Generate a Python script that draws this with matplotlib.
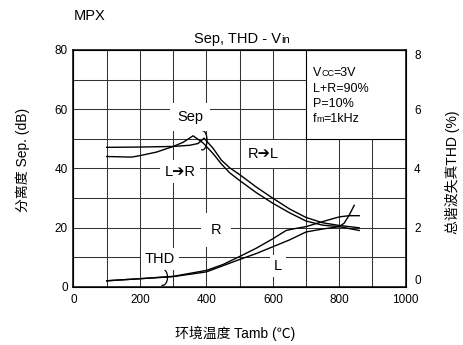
import matplotlib
matplotlib.use('Agg')
import matplotlib.pyplot as plt
from matplotlib.patches import Arc, Rectangle
from matplotlib.ticker import MultipleLocator

plt.rcParams['font.family'] = ['Liberation Sans', 'Noto Sans CJK SC', 'DejaVu Sans']

# ---- data ----
# separation curves (dB, left axis)
sep_rl_x = [100, 200, 300, 350, 375, 393, 420, 445, 470, 500, 550, 600, 650, 700, 750, 800, 860]
sep_rl_y = [47.1, 47.2, 47.4, 47.8, 48.4, 50.2, 46.8, 42.8, 40.2, 37.9, 33.7, 29.9, 26.3, 23.4, 21.6, 20.7, 19.9]
sep_lr_x = [100, 175, 200, 250, 300, 330, 360, 390, 420, 445, 470, 500, 550, 600, 650, 700, 750, 800, 860]
sep_lr_y = [44.0, 43.8, 44.3, 45.5, 47.4, 48.8, 51.0, 48.6, 45.0, 41.5, 38.5, 35.9, 31.8, 28.2, 25.0, 22.2, 20.8, 20.3, 19.0]

# THD curves (%, right axis)
thd_r_x = [100, 200, 300, 400, 450, 500, 550, 600, 640, 660, 700, 750, 800, 830, 860]
thd_r_y = [0.20, 0.27, 0.35, 0.55, 0.75, 1.02, 1.30, 1.62, 1.90, 1.95, 2.03, 2.20, 2.36, 2.40, 2.40]
thd_l_x = [100, 200, 300, 400, 500, 550, 600, 650, 700, 750, 800, 815, 830, 845]
thd_l_y = [0.20, 0.27, 0.34, 0.50, 0.92, 1.12, 1.35, 1.58, 1.85, 1.95, 2.03, 2.15, 2.42, 2.75]

x_ticks = [0, 200, 400, 600, 800, 1000]
sep_ticks = [0, 20, 40, 60, 80]
thd_ticks = [0, 2, 4, 6, 8]

fig = plt.figure(figsize=(4.64, 3.45), dpi=100)
ax = fig.add_axes([73.5 / 464, 1 - 286.7 / 345, (405.7 - 73.5) / 464, (286.7 - 50) / 345])

ax.set_xlim(0, 1000)
ax.set_ylim(0, 80)
ax.set_xticks(x_ticks)
ax.set_yticks(sep_ticks)
ax.xaxis.set_minor_locator(MultipleLocator(100))
ax.yaxis.set_minor_locator(MultipleLocator(10))
ax.grid(which='both', color='#333333', lw=0.75)
ax.set_axisbelow(True)
ax.tick_params(which='both', length=0, labelsize=8.5)
ax.tick_params(axis='x', pad=5)
ax.tick_params(axis='y', pad=4)
for s in ax.spines.values():
    s.set_linewidth(1.1)

ax2 = ax.twinx()
ax2.set_ylim(0, 8)
ax2.set_yticks(thd_ticks)
ax2.tick_params(length=0, labelsize=8.5, pad=6)
labs = ax2.get_yticklabels()
labs[0].set_va('bottom')
labs[-1].set_va('top')

lc = 'black'
ax.plot(sep_rl_x, sep_rl_y, color=lc, lw=1.0, zorder=3)
ax.plot(sep_lr_x, sep_lr_y, color=lc, lw=1.0, zorder=3)
ax2.plot(thd_r_x, thd_r_y, color=lc, lw=1.0, zorder=3)
ax2.plot(thd_l_x, thd_l_y, color=lc, lw=1.0, zorder=3)

# condition box
ax.add_patch(Rectangle((700, 50), 300, 30, fc='white', ec='black', lw=0.8, zorder=1))
box_kw = dict(xycoords='data', textcoords='offset points', va='baseline', ha='left', fontsize=9)
ax.annotate('V', (721, 71.2), xytext=(0, 0), **box_kw)
ax.annotate('CC', (721, 71.2), xytext=(6.0, 0), **{**box_kw, 'fontsize': 6.5})
ax.annotate('=3V', (721, 71.2), xytext=(14.4, 0), **box_kw)
ax.annotate('L+R=90%', (721, 65.9), xytext=(0, 0), **box_kw)
ax.annotate('P=10%', (721, 60.7), xytext=(0, 0), **box_kw)
ax.annotate('f', (721, 55.6), xytext=(0, 0), **box_kw)
ax.annotate('m', (721, 55.6), xytext=(2.3, 0), **{**box_kw, 'fontsize': 6.5})
ax.annotate('=1kHz', (721, 55.6), xytext=(7.2, 0), **box_kw)

# curve labels with white backgrounds hiding the grid
def label(x, y, s, pad):
    ax.text(x, y, s, ha='center', va='center', fontsize=10.5, zorder=4,
            family=['Liberation Sans', 'DejaVu Sans'],
            bbox=dict(fc='white', ec='none', pad=pad))

label(352, 57.3, 'Sep', 5)
label(320, 38.9, 'L\u2794R', 3)
label(571, 44.9, 'R\u2794L', 5)
label(429, 19.2, 'R', 7)
label(260, 9.3, 'THD', 3)
label(616, 7.0, 'L', 3)

# brackets tying labels to curve pairs
ax.add_patch(Arc((388, 49.5), 28, 6.5, theta1=-140, theta2=100, color=lc, lw=0.9, zorder=3))
ax.add_patch(Arc((268, 3.2), 30, 5.5, theta1=-140, theta2=110, color=lc, lw=0.9, zorder=3))

# titles and axis labels
fig.text(74 / 464, 1 - 19.5 / 345, 'MPX', fontsize=10.5, va='baseline', ha='left')
fig.text(281 / 464, 1 - 43 / 345, 'Sep, THD - V', fontsize=10.5, va='baseline', ha='right')
fig.text(281.5 / 464, 1 - 43 / 345, 'in', fontsize=8, va='baseline', ha='left')
fig.text(23 / 464, 1 - 160 / 345, '分离度 Sep. (dB)', rotation=90, fontsize=10,
         ha='center', va='center')
fig.text(453 / 464, 1 - 172 / 345, '总谐波失真THD (%)', rotation=90, fontsize=10,
         ha='center', va='center')
fig.text(235 / 464, 1 - 333 / 345, '环境温度 Tamb (℃)', fontsize=10, ha='center', va='center')

plt.savefig('out.png', dpi=100)
